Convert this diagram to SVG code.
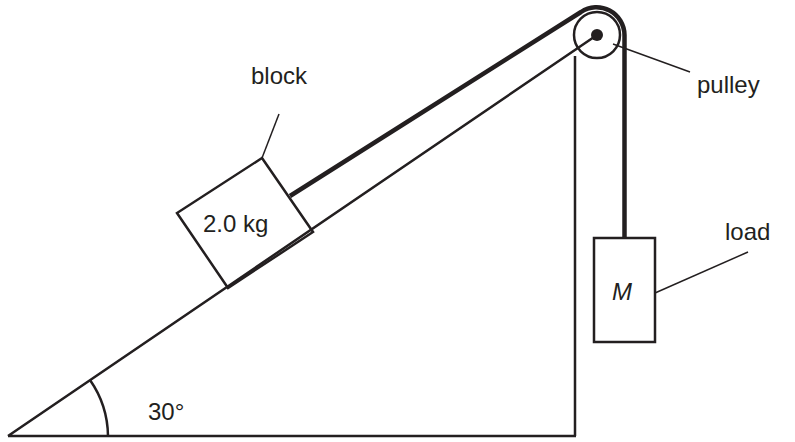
<svg xmlns="http://www.w3.org/2000/svg" width="795" height="442" viewBox="0 0 795 442">
<style>
.l{stroke:#231f20;fill:none;stroke-width:2.5}
.t{stroke:#231f20;fill:none;stroke-width:1.5}
.r{stroke:#231f20;fill:none;stroke-width:4.5}
text{font-family:"Liberation Sans",Arial,sans-serif;font-size:24px;fill:#231f20}
</style>
<rect width="795" height="442" fill="#fff"/>
<g id="incline">
<path class="l" d="M8,436 L597,35 M8,436 H576 M575,436 V56"/>
<path class="l" d="M108,436 A100,100 0 0 0 90,380"/>
<text x="148" y="420">30°</text>
</g>
<g id="pulley">
<circle cx="597" cy="35" r="23" class="l"/>
<circle cx="597" cy="35" r="6" fill="#231f20"/>
<line class="t" x1="613" y1="44" x2="690" y2="72"/>
<text x="697" y="93">pulley</text>
</g>
<g id="block">
<polygon class="l" points="262,158 177,213 228,288 313,232" fill="#fff"/>
<text x="203" y="232">2.0 kg</text>
<line class="t" x1="262" y1="158" x2="279" y2="114"/>
<text x="251" y="84">block</text>
</g>
<g id="load">
<rect class="l" x="594" y="238" width="61" height="104"/>
<text x="612" y="300" font-style="italic">M</text>
<line class="t" x1="655" y1="293" x2="748" y2="252"/>
<text x="725" y="240">load</text>
</g>
<g id="connectors">
<path class="r" d="M290,196 L581,12 A28,28 0 0 1 624.5,35 V238"/>
</g>
</svg>
